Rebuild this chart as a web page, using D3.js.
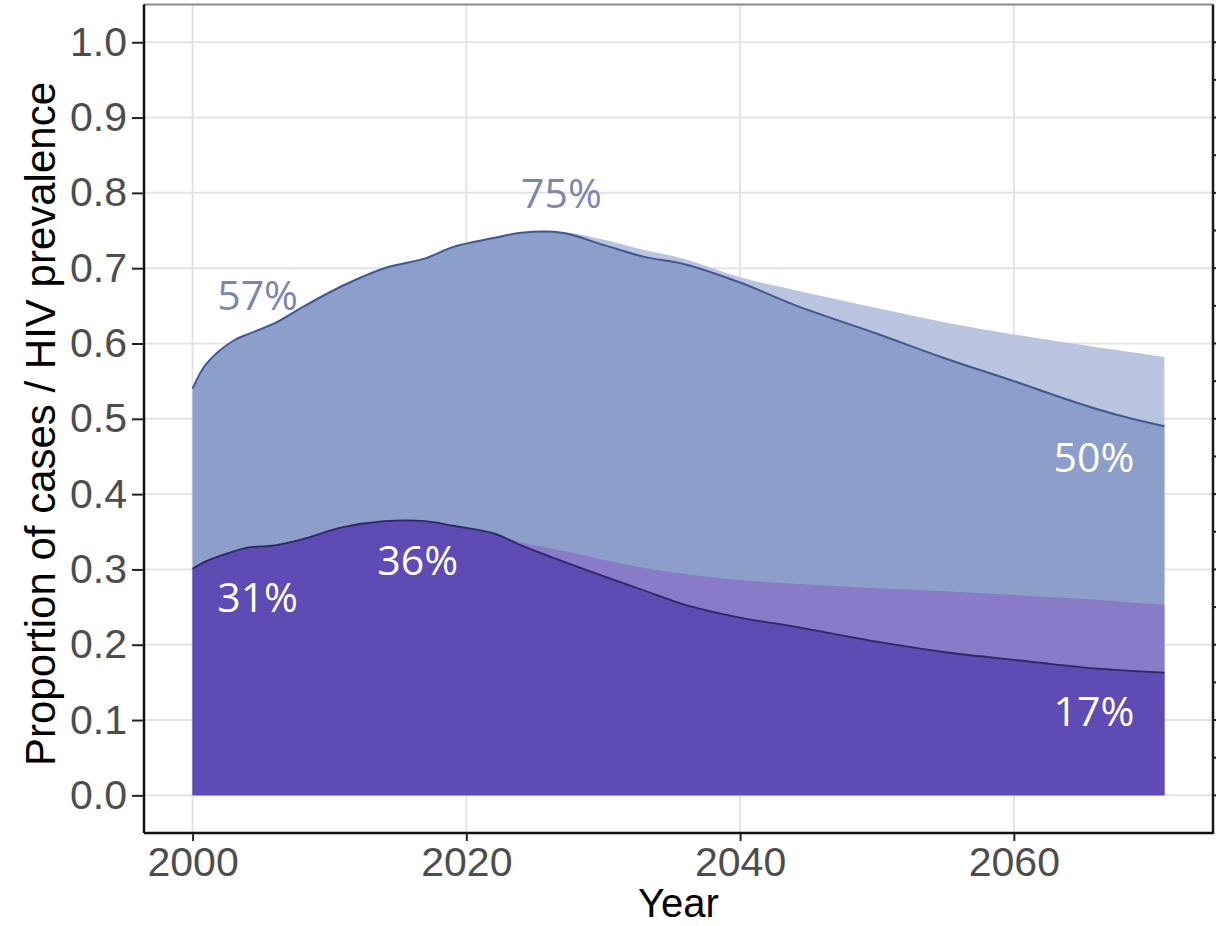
<!DOCTYPE html>
<html>
<head>
<meta charset="utf-8">
<script src="https://cdn.jsdelivr.net/npm/d3@7"></script>
<style>
  html, body { margin: 0; padding: 0; background: #ffffff; }
  svg { display: block; }
</style>
</head>
<body>
<svg id="chart" width="1216" height="926"></svg>
<script>
// Projection years
const years = [2000, 2001, 2003, 2004, 2006, 2008, 2011, 2014, 2017, 2019, 2022, 2024,
               2027, 2030, 2033, 2036, 2040, 2044, 2050, 2055, 2060, 2065, 2068, 2071];

// Upper envelope (lightest band)
const upperEnvelope = [0.540, 0.573, 0.604, 0.612, 0.627, 0.648, 0.677, 0.700, 0.713, 0.728, 0.740, 0.747,
                       0.748, 0.738, 0.724, 0.712, 0.688, 0.671, 0.647, 0.628, 0.612, 0.598, 0.590, 0.582];
// Blue series (outlined)
const blueSeries = [0.540, 0.573, 0.604, 0.612, 0.627, 0.648, 0.677, 0.700, 0.713, 0.728, 0.740, 0.747,
                    0.747, 0.731, 0.715, 0.705, 0.681, 0.651, 0.613, 0.580, 0.550, 0.519, 0.503, 0.490];
// Light purple band top
const purpleEnvelope = [0.301, 0.311, 0.324, 0.329, 0.332, 0.340, 0.356, 0.364, 0.364, 0.358, 0.348, 0.336,
                        0.325, 0.313, 0.302, 0.294, 0.286, 0.281, 0.275, 0.271, 0.266, 0.261, 0.257, 0.253];
// Dark purple series (outlined)
const purpleSeries = [0.301, 0.311, 0.324, 0.329, 0.332, 0.340, 0.356, 0.364, 0.364, 0.358, 0.348, 0.332,
                      0.311, 0.291, 0.272, 0.253, 0.236, 0.224, 0.204, 0.190, 0.180, 0.170, 0.166, 0.163];

const xTicks = [2000, 2020, 2040, 2060];
const yTicks = [0, 0.1, 0.2, 0.3, 0.4, 0.5, 0.6, 0.7, 0.8, 0.9, 1.0];

// Value labels: [text, year, value, colour]
const labels = [
  ["57%", 2001.8, 0.645, "#7b88ab"],
  ["75%", 2024.0, 0.78, "#7b88ab"],
  ["31%", 2001.8, 0.243, "#ffffff"],
  ["36%", 2013.5, 0.292, "#ffffff"],
  ["50%", 2062.9, 0.43, "#ffffff"],
  ["17%", 2062.9, 0.092, "#ffffff"]
];

const svg = d3.select("#chart");
const x = d3.scaleLinear().domain([1996.45, 2074.55]).range([144, 1213]);
const y = d3.scaleLinear().domain([-0.05, 1.05]).range([833, 4.6]);

const [px0, px1] = x.range();
const [py0, py1] = y.range();

// grid
const grid = svg.append("g");
grid.selectAll("line.gx").data(xTicks).join("line")
  .attr("x1", d => x(d)).attr("x2", d => x(d))
  .attr("y1", py1).attr("y2", py0)
  .attr("stroke", "#e3e3e3").attr("stroke-width", 2);
grid.selectAll("line.gy").data(yTicks).join("line")
  .attr("x1", px0).attr("x2", px1)
  .attr("y1", d => y(d)).attr("y2", d => y(d))
  .attr("stroke", "#e3e3e3").attr("stroke-width", 2);

const curve = d3.curveCatmullRom.alpha(0.5);
function areaOf(vals) {
  return d3.area().curve(curve)
    .x((d, i) => x(years[i])).y0(y(0)).y1(d => y(d))(vals);
}
function lineOf(vals) {
  return d3.line().curve(curve)
    .x((d, i) => x(years[i])).y(d => y(d))(vals);
}

svg.append("path").attr("d", areaOf(upperEnvelope)).attr("fill", "#b9c4df");
svg.append("path").attr("d", areaOf(blueSeries)).attr("fill", "#8c9fca");
svg.append("path").attr("d", lineOf(blueSeries)).attr("fill", "none")
  .attr("stroke", "#3e5896").attr("stroke-width", 2);
svg.append("path").attr("d", areaOf(purpleEnvelope)).attr("fill", "#8a7bc8");
svg.append("path").attr("d", areaOf(purpleSeries)).attr("fill", "#5e4bb3");
svg.append("path").attr("d", lineOf(purpleSeries)).attr("fill", "none")
  .attr("stroke", "#2e2768").attr("stroke-width", 1.8);

// value labels
svg.selectAll("text.val").data(labels).join("text")
  .attr("class", "val")
  .attr("x", d => x(d[1])).attr("y", d => y(d[2]))
  .attr("fill", d => d[3])
  .attr("font-family", "'Open Sans', sans-serif")
  .attr("font-size", 41)
  .text(d => d[0]);

// panel border
svg.append("line").attr("x1", px0).attr("x2", px1).attr("y1", py1).attr("y2", py1)
  .attr("stroke", "#8a8a8a").attr("stroke-width", 2);
svg.append("line").attr("x1", px1).attr("x2", px1).attr("y1", py1).attr("y2", py0 + 1)
  .attr("stroke", "#1a1a1a").attr("stroke-width", 2.5);
svg.selectAll("line.rt").data(d3.range(0, 21).map(i => i * 0.05)).join("line")
  .attr("x1", px1).attr("x2", px1 + 4)
  .attr("y1", d => y(d)).attr("y2", d => y(d))
  .attr("stroke", "#1a1a1a").attr("stroke-width", 2);

// axes
const xAxis = d3.axisBottom(x).tickValues(xTicks).tickFormat(d3.format("d"))
  .tickSize(8).tickPadding(6);
const yAxis = d3.axisLeft(y).tickValues(yTicks).tickFormat(d3.format(".1f"))
  .tickSize(12).tickPadding(5);

const gx = svg.append("g").attr("transform", `translate(0,${py0})`).call(xAxis);
const gy = svg.append("g").attr("transform", `translate(${px0},0)`).call(yAxis);

[gx, gy].forEach(g => {
  g.select(".domain").attr("stroke", "#111").attr("stroke-width", 2.5);
  g.selectAll(".tick line").attr("stroke", "#222").attr("stroke-width", 2);
  g.selectAll(".tick text")
    .attr("fill", "#4d4d4d")
    .attr("font-family", "'Liberation Sans', Arial, sans-serif")
    .attr("font-size", 41);
});
gy.select(".domain").attr("d", `M0,${py1}V${py0}`);
gx.select(".domain").attr("d", `M${px0},0H${px1}`);

// axis titles
svg.append("text")
  .attr("x", (px0 + px1) / 2).attr("y", 917)
  .attr("text-anchor", "middle")
  .attr("font-family", "'Liberation Sans', Arial, sans-serif")
  .attr("font-size", 40).attr("fill", "#000")
  .text("Year");
svg.append("text")
  .attr("transform", "translate(55,424) rotate(-90)")
  .attr("text-anchor", "middle")
  .attr("font-family", "'Liberation Sans', Arial, sans-serif")
  .attr("font-size", 42).attr("fill", "#000")
  .text("Proportion of cases / HIV prevalence");
</script>
</body>
</html>
